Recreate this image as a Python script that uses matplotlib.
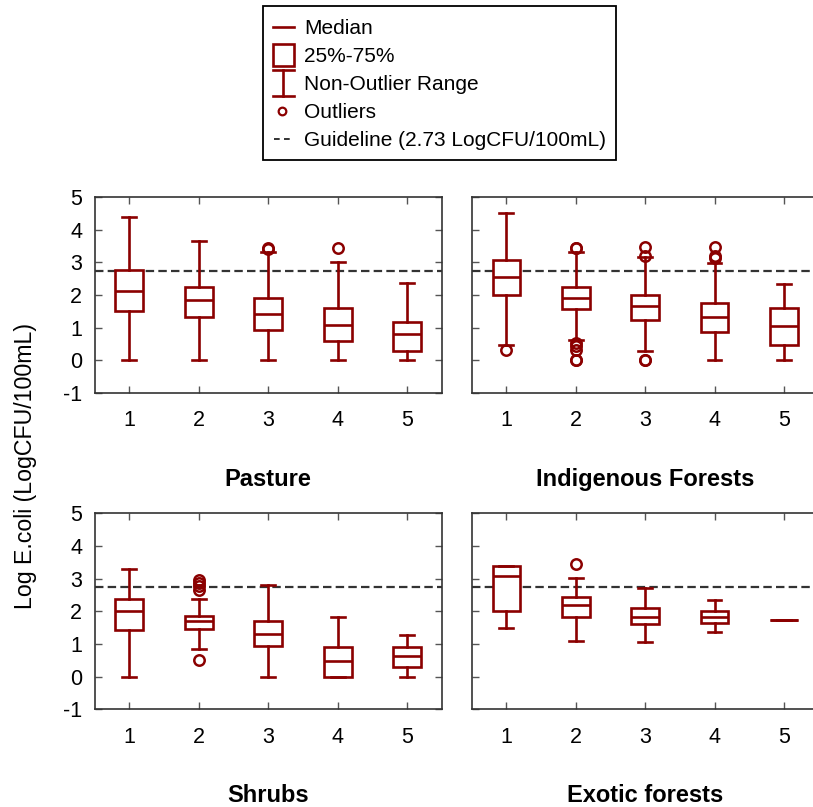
#!/usr/bin/env python3
import numpy as np
import matplotlib
matplotlib.use("Agg")
import matplotlib.pyplot as plt
from matplotlib.lines import Line2D
from matplotlib.patches import Rectangle
from matplotlib.legend_handler import HandlerBase

plt.rcParams['font.family'] = ['Liberation Sans', 'DejaVu Sans']
plt.rcParams['axes.unicode_minus'] = False

RED = '#8b0000'
GUIDE = 2.73

positions = [1, 2, 3, 4, 5]
panels = ['Pasture', 'Indigenous Forests', 'Shrubs', 'Exotic forests']

# per panel: [whislo, q1, med, q3, whishi] for sites 1..5
pasture = [[0.0, 1.52, 2.11, 2.77, 4.38],
           [0.0, 1.33, 1.84, 2.24, 3.64],
           [0.0, 0.92, 1.42, 1.90, 3.31],
           [0.0, 0.60, 1.07, 1.60, 3.00],
           [0.0, 0.29, 0.80, 1.18, 2.37]]
pasture_out = [[], [], [3.42, 3.45], [3.44], []]

indigenous = [[0.48, 2.01, 2.54, 3.07, 4.51],
              [0.61, 1.56, 1.92, 2.26, 3.31],
              [0.29, 1.23, 1.66, 2.01, 3.15],
              [0.0, 0.86, 1.34, 1.74, 2.99],
              [0.0, 0.48, 1.04, 1.59, 2.35]]
indigenous_out = [[0.32],
                  [3.43, 3.45, 0.53, 0.43, 0.33, 0.01, 0.0],
                  [3.46, 3.20, 0.01, 0.0],
                  [3.46, 3.18, 3.14],
                  []]

shrubs = [[0.0, 1.42, 2.02, 2.38, 3.30],
          [0.86, 1.46, 1.71, 1.87, 2.38],
          [0.0, 0.95, 1.31, 1.71, 2.81],
          [0.0, 0.0, 0.48, 0.92, 1.83],
          [0.0, 0.30, 0.62, 0.92, 1.28]]
shrubs_out = [[], [2.96, 2.86, 2.78, 2.65, 0.50], [], [], []]

exotic = [[1.50, 2.02, 3.08, 3.38, 3.38],
          [1.10, 1.82, 2.19, 2.43, 3.01],
          [1.06, 1.60, 1.82, 2.11, 2.70],
          [1.37, 1.63, 1.84, 2.02, 2.36],
          [1.74, 1.74, 1.74, 1.74, 1.74]]
exotic_out = [[], [3.45], [], [], []]

data = [(pasture, pasture_out), (indigenous, indigenous_out),
        (shrubs, shrubs_out), (exotic, exotic_out)]


def make_stats(vals, outs):
    stats = []
    for v, o in zip(vals, outs):
        stats.append({'whislo': v[0], 'q1': v[1], 'med': v[2], 'q3': v[3],
                      'whishi': v[4], 'fliers': np.array(o)})
    return stats


W, H = 813, 807
fig = plt.figure(figsize=(W / 100, H / 100), dpi=100)

# axes boxes in pixels: (left, top, right, bottom)
boxes = [(94.5, 197, 442, 393), (471.7, 197, 818.6, 393),
         (94.5, 513.3, 442, 709.3), (471.7, 513.3, 818.6, 709.3)]

lw = 1.9
for i, (b, name) in enumerate(zip(boxes, panels)):
    l, t, r, bt = b
    ax = fig.add_axes([l / W, 1 - bt / H, (r - l) / W, (bt - t) / H])
    vals, outs = data[i]
    ax.axhline(GUIDE, color='#333333', lw=1.6, ls=(0, (3.8, 1.9)), zorder=1)
    ax.bxp(make_stats(vals, outs), positions=positions, widths=0.4,
           patch_artist=True, manage_ticks=False,
           boxprops=dict(facecolor='white', edgecolor=RED, lw=lw),
           whiskerprops=dict(color=RED, lw=lw),
           capprops=dict(color=RED, lw=lw),
           medianprops=dict(color=RED, lw=lw),
           flierprops=dict(marker='o', markerfacecolor='none', markeredgecolor=RED,
                           markersize=7.5, markeredgewidth=1.8))
    ax.set_xlim(0.5, 5.5)
    ax.set_ylim(-1, 5)
    ax.set_xticks(positions)
    ax.set_yticks([-1, 0, 1, 2, 3, 4, 5])
    ax.tick_params(direction='in', top=True, right=(i % 2 == 0), length=5, width=1,
                   color='#555555', labelsize=15.5)
    ax.tick_params(axis='x', pad=12.5)
    ax.tick_params(axis='y', pad=9)
    if i % 2 == 1:
        ax.set_yticklabels([])
    for s in ax.spines.values():
        s.set_color('#333333')
        s.set_linewidth(1.2)
    ax.set_xlabel(name, fontsize=17, fontweight='bold', labelpad=26.5)

fig.text(26 / W, 1 - 466 / H, 'Log E.coli (LogCFU/100mL)', rotation=90,
         ha='center', va='center', fontsize=16.7)


class GlyphHandler(HandlerBase):
    def __init__(self, kind):
        super().__init__()
        self.kind = kind

    def create_artists(self, legend, orig_handle, xdescent, ydescent,
                       width, height, fontsize, trans):
        x0 = -xdescent
        cy = height / 2 - ydescent
        if self.kind == 'median':
            arts = [Line2D([x0, x0 + 15.5], [cy, cy], color=RED, lw=lw)]
        elif self.kind == 'box':
            arts = [Rectangle((x0, cy - 7.8), 15.5, 15.6, fc='none', ec=RED, lw=lw)]
        elif self.kind == 'range':
            mx = x0 + 7.75
            arts = [Line2D([mx, mx], [cy - 9.3, cy + 9.3], color=RED, lw=lw),
                    Line2D([x0, x0 + 15.5], [cy - 9.3, cy - 9.3], color=RED, lw=lw),
                    Line2D([x0, x0 + 15.5], [cy + 9.3, cy + 9.3], color=RED, lw=lw)]
        elif self.kind == 'outlier':
            arts = [Line2D([x0 + 6.5], [cy], marker='o', ms=5.5, mfc='none', mec=RED,
                           mew=1.6)]
        else:
            arts = [Line2D([x0 + 1, x0 + 12.4], [cy, cy], color='#222222', lw=1.3,
                           ls=(0, (3.15, 2.4)))]
        for a in arts:
            a.set_transform(trans)
        return arts


kinds = ['median', 'box', 'range', 'outlier', 'guide']
labels = ['Median', '25%-75%', 'Non-Outlier Range', 'Outliers',
          'Guideline (2.73 LogCFU/100mL)']
handles = [Line2D([], []) for _ in kinds]
hmap = {h: GlyphHandler(k) for h, k in zip(handles, kinds)}
leg = fig.legend(handles, labels, handler_map=hmap, loc='upper center',
                 bbox_to_anchor=(439.5 / W, 1 - 6 / H), borderaxespad=0,
                 fontsize=15, handlelength=1.15, handleheight=1.33,
                 handletextpad=0.38, labelspacing=0.24, borderpad=0.45,
                 fancybox=False, framealpha=1)
leg.get_frame().set_edgecolor('black')
leg.get_frame().set_linewidth(1.3)

fig.savefig('out.png', dpi=100)
